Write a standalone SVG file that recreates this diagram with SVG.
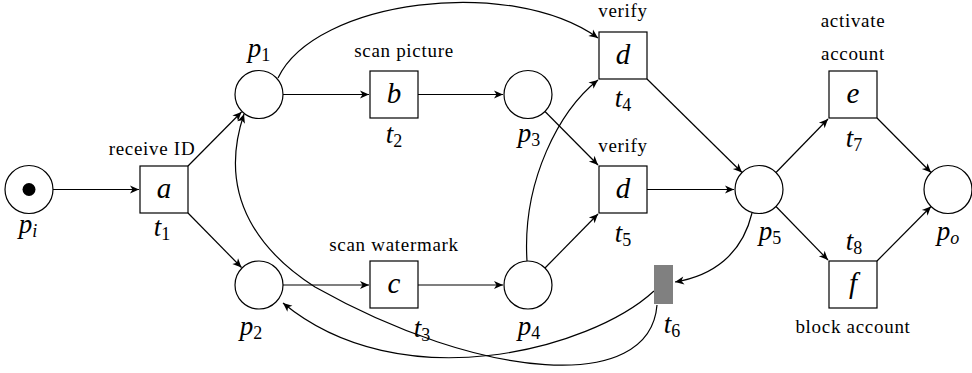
<svg xmlns="http://www.w3.org/2000/svg" width="972" height="373" viewBox="0 0 972 373">
<style>
.pl{fill:#fff;stroke:#000;stroke-width:1.2}
.tr{fill:#fff;stroke:#000;stroke-width:1.2}
.c{fill:none;stroke:#000;stroke-width:1.2;marker-end:url(#ah)}
.lb{font-family:"Liberation Serif","Times New Roman",serif;font-size:19px;letter-spacing:0.7px;text-anchor:middle;fill:#000}
.m{font-family:"Liberation Serif","Times New Roman",serif;font-style:italic;font-size:27px;text-anchor:middle;fill:#000}
.bx{font-family:"Liberation Serif","Times New Roman",serif;font-style:italic;font-size:29px;text-anchor:middle;fill:#000}
.s{font-style:normal;font-size:18px}
.si{font-style:italic;font-size:18px}
</style>
<defs>
<marker id="ah" markerUnits="userSpaceOnUse" markerWidth="12" markerHeight="10" viewBox="-10 -5 12 10" refX="0" refY="0" orient="auto">
<path d="M0,0 L-9,-4 L-6.5,0 L-9,4 Z" fill="#000"/>
</marker>
</defs>
<rect width="972" height="373" fill="#fff"/>
<g id="connectors">
<path class="c" d="M53,189.5 L139,189.5"/>
<path class="c" d="M188,166 L241.5,112"/>
<path class="c" d="M188,213 L241.5,267.5"/>
<path class="c" d="M283,94.5 L369,94.5"/>
<path class="c" d="M418,94.5 L503,94.5"/>
<path class="c" d="M283,285 L369,285"/>
<path class="c" d="M418,285 L503,285"/>
<path class="c" d="M278,78 C315,0 510,-25 598,38"/>
<path class="c" d="M545,111.5 L598,165"/>
<path class="c" d="M527,261 C522,180 560,110 598,80"/>
<path class="c" d="M545,268 L598,214"/>
<path class="c" d="M647,79 L742,172.5"/>
<path class="c" d="M647,189.5 L734,189.5"/>
<path class="c" d="M776,172.5 L828,119"/>
<path class="c" d="M776,206.5 L828,260"/>
<path class="c" d="M877,118 L931,172.5"/>
<path class="c" d="M877,261 L931,206.5"/>
<path class="c" d="M752,213 C742,255 712,276 675,282"/>
<path class="c" d="M654,291 C590,350 400,400 283,303"/>
<path class="c" d="M657,305 C650,395 480,380 315,287 C265,255 215,200 244,114"/>
</g>
<g id="pi">
<circle class="pl" cx="29" cy="189.5" r="24"/>
<circle cx="29" cy="189.5" r="6.5" fill="#000"/>
<text class="m" x="28" y="233">p<tspan class="si" dy="4">i</tspan></text>
</g>
<g id="t1">
<rect class="tr" x="140" y="166" width="48" height="47"/>
<text class="bx" x="164" y="198">a</text>
<text class="lb" x="152" y="155">receive ID</text>
<text class="m" x="162" y="236">t<tspan class="s" dy="4">1</tspan></text>
</g>
<g id="p1">
<circle class="pl" cx="259" cy="94.5" r="24"/>
<text class="m" x="259" y="57">p<tspan class="s" dy="4">1</tspan></text>
</g>
<g id="p2">
<circle class="pl" cx="259" cy="285" r="24"/>
<text class="m" x="251" y="335">p<tspan class="s" dy="4">2</tspan></text>
</g>
<g id="t2">
<rect class="tr" x="370" y="71" width="48" height="47"/>
<text class="bx" x="394" y="103">b</text>
<text class="lb" x="404" y="57">scan picture</text>
<text class="m" x="394" y="143">t<tspan class="s" dy="4">2</tspan></text>
</g>
<g id="t3">
<rect class="tr" x="370" y="261" width="48" height="47"/>
<text class="bx" x="394" y="293">c</text>
<text class="lb" x="394" y="251">scan watermark</text>
<text class="m" x="422" y="337">t<tspan class="s" dy="4">3</tspan></text>
</g>
<g id="p3">
<circle class="pl" cx="528" cy="94.5" r="24"/>
<text class="m" x="529" y="142">p<tspan class="s" dy="4">3</tspan></text>
</g>
<g id="p4">
<circle class="pl" cx="528" cy="285" r="24"/>
<text class="m" x="529" y="335">p<tspan class="s" dy="4">4</tspan></text>
</g>
<g id="t4">
<rect class="tr" x="599" y="32" width="48" height="47"/>
<text class="bx" x="623" y="64">d</text>
<text class="lb" x="623" y="17">verify</text>
<text class="m" x="623" y="107">t<tspan class="s" dy="4">4</tspan></text>
</g>
<g id="t5">
<rect class="tr" x="599" y="166" width="48" height="47"/>
<text class="bx" x="623" y="198">d</text>
<text class="lb" x="623" y="152">verify</text>
<text class="m" x="623" y="242">t<tspan class="s" dy="4">5</tspan></text>
</g>
<g id="t6">
<rect x="654" y="265" width="19" height="39" fill="#808080"/>
<text class="m" x="672" y="333">t<tspan class="s" dy="4">6</tspan></text>
</g>
<g id="p5">
<circle class="pl" cx="759" cy="189.5" r="24"/>
<text class="m" x="770" y="240">p<tspan class="s" dy="4">5</tspan></text>
</g>
<g id="t7">
<rect class="tr" x="829" y="71" width="48" height="47"/>
<text class="bx" x="853" y="103">e</text>
<text class="lb" x="853" y="27">activate</text>
<text class="lb" x="853" y="60">account</text>
<text class="m" x="854" y="147">t<tspan class="s" dy="4">7</tspan></text>
</g>
<g id="t8">
<rect class="tr" x="829" y="261" width="48" height="47"/>
<text class="bx" x="853" y="293">f</text>
<text class="lb" x="853" y="333">block account</text>
<text class="m" x="854" y="250">t<tspan class="s" dy="4">8</tspan></text>
</g>
<g id="po">
<circle class="pl" cx="948" cy="189.5" r="24"/>
<text class="m" x="948" y="240">p<tspan class="si" dy="4">o</tspan></text>
</g>
</svg>
